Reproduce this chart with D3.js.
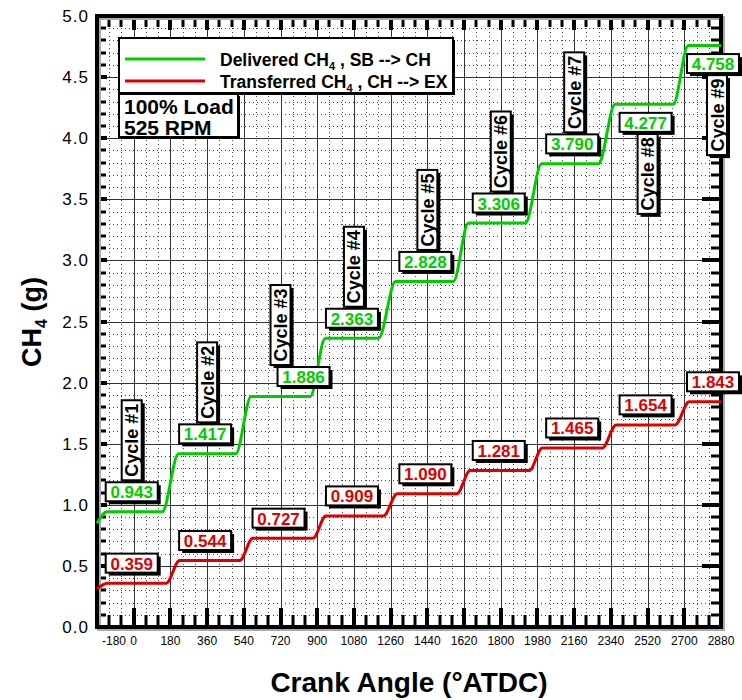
<!DOCTYPE html>
<html>
<head>
<meta charset="utf-8">
<script src="https://cdn.jsdelivr.net/npm/d3@7"></script>
<style>
  html, body { margin: 0; padding: 0; background: #fff; }
  svg { display: block; font-family: Arial, "Liberation Sans", sans-serif; }
</style>
</head>
<body>
<svg id="chart" width="742" height="700"></svg>
<script>
// Cumulative CH4 mass per engine cycle
const cycleNames = ["Cycle #1", "Cycle #2", "Cycle #3", "Cycle #4", "Cycle #5",
                    "Cycle #6", "Cycle #7", "Cycle #8", "Cycle #9"];
const deliveredCH4 = [0.943, 1.417, 1.886, 2.363, 2.828, 3.306, 3.790, 4.277, 4.758];
const transferredCH4 = [0.359, 0.544, 0.727, 0.909, 1.090, 1.281, 1.465, 1.654, 1.843];

// value at the start of the window and the angle where the first plateau begins
const deliveredInitial = 0.85;
const transferredInitial = 0.31;
const firstPlateauAngle = -130;

// crank angles (deg ATDC) where each step starts and finishes rising
const deliveredRiseStart = [140, 500, 865, 1201, 1568, 1921, 2279, 2646];
const deliveredRiseEnd   = [220, 576, 940, 1284, 1641, 2000, 2361, 2719];
const transferredRiseStart = [160, 520, 880, 1225, 1585, 1940, 2298, 2655];
const transferredRiseEnd   = [225, 584, 942, 1292, 1650, 2004, 2366, 2724];

const xTicks = [-180, 0, 180, 360, 540, 720, 900, 1080, 1260, 1440, 1620, 1800, 1980, 2160, 2340, 2520, 2700, 2880];
const yTicks = [0, 0.5, 1.0, 1.5, 2.0, 2.5, 3.0, 3.5, 4.0, 4.5, 5.0];

const GREEN = "#00cc00";
const RED = "#dd0000";

const svg = d3.select("#chart");
const L = 97, R = 721, T = 16, B = 627;

const x = d3.scaleLinear().domain([-180, 2880]).range([L, R]);
const y = d3.scaleLinear().domain([0, 5]).range([B, T]);

// ---- grid ----
const grid = svg.append("g");
const minorX = d3.range(-180, 2881, 60).filter(v => (v + 180) % 180 !== 0);
const minorY = d3.range(0, 51).map(i => i / 10).filter((v, i) => i % 5 !== 0);
grid.selectAll(".mx").data(minorX).join("line")
  .attr("x1", d => Math.round(x(d)) + 0.5).attr("x2", d => Math.round(x(d)) + 0.5)
  .attr("y1", T).attr("y2", B)
  .attr("stroke", "#444").attr("stroke-width", 1).attr("stroke-dasharray", "1,3");
grid.selectAll(".my").data(minorY).join("line")
  .attr("y1", d => Math.round(y(d)) + 0.5).attr("y2", d => Math.round(y(d)) + 0.5)
  .attr("x1", L).attr("x2", R)
  .attr("stroke", "#444").attr("stroke-width", 1).attr("stroke-dasharray", "1,3");
grid.selectAll(".Mx").data(xTicks).join("line")
  .attr("x1", d => Math.round(x(d)) + 0.5).attr("x2", d => Math.round(x(d)) + 0.5)
  .attr("y1", T).attr("y2", B)
  .attr("stroke", "#333").attr("stroke-width", 1);
grid.selectAll(".My").data(yTicks).join("line")
  .attr("y1", d => Math.round(y(d)) + 0.5).attr("y2", d => Math.round(y(d)) + 0.5)
  .attr("x1", L).attr("x2", R)
  .attr("stroke", "#333").attr("stroke-width", 1);

// ---- ticks on all four sides, pointing inward ----
const ticks = svg.append("g").attr("stroke", "#000");
const minorXT = d3.range(-180, 2881, 60);
minorXT.forEach(v => {
  const major = (v + 180) % 180 === 0;
  const xp = Math.round(x(v));
  ticks.append("line").attr("x1", xp).attr("x2", xp)
    .attr("y1", B).attr("y2", B - (major ? 19 : 12))
    .attr("stroke-width", major ? 4 : 3);
  ticks.append("line").attr("x1", xp).attr("x2", xp)
    .attr("y1", T).attr("y2", T + (major ? 14 : 11))
    .attr("stroke-width", major ? 4 : 3);
});
d3.range(0, 51).forEach(i => {
  const major = i % 5 === 0;
  const yp = Math.round(y(i / 10));
  ticks.append("line").attr("x1", L).attr("x2", L + (major ? 10 : 9))
    .attr("y1", yp).attr("y2", yp).attr("stroke-width", major ? 4 : 3);
  ticks.append("line").attr("x1", R).attr("x2", R - (major ? 19 : 10))
    .attr("y1", yp).attr("y2", yp).attr("stroke-width", major ? 4 : 3);
});

// ---- frame with soft shadow ----
svg.append("rect").attr("x", L + 2).attr("y", T + 2).attr("width", R - L).attr("height", B - T)
  .attr("fill", "none").attr("stroke", "#aaa").attr("stroke-width", 4);
svg.append("rect").attr("x", L).attr("y", T).attr("width", R - L).attr("height", B - T)
  .attr("fill", "none").attr("stroke", "#000").attr("stroke-width", 4);

// ---- tick labels ----
svg.append("g").selectAll("text").data(xTicks).join("text")
  .attr("x", (d, i) => x(d) + (i === 0 ? 17 : 0))
  .attr("y", 645)
  .attr("text-anchor", "middle")
  .attr("font-size", 12)
  .text(d => d);
svg.append("g").selectAll("text").data(yTicks).join("text")
  .attr("x", 89)
  .attr("y", d => y(d) + 6)
  .attr("text-anchor", "end")
  .attr("font-size", 17)
  .attr("letter-spacing", 1)
  .text(d => d.toFixed(1));

// ---- axis titles ----
svg.append("text").attr("x", 409).attr("y", 692).attr("text-anchor", "middle")
  .attr("font-size", 28).attr("font-weight", "bold")
  .text("Crank Angle (°ATDC)");
const yt = svg.append("text").attr("transform", "translate(41,322) rotate(-90)")
  .attr("text-anchor", "middle").attr("font-size", 27).attr("font-weight", "bold");
yt.append("tspan").text("CH");
yt.append("tspan").attr("font-size", 16).attr("dy", 6).text("4");
yt.append("tspan").attr("dy", -6).text(" (g)");

// ---- step curves ----
function stepPoints(initial, values, riseStart, riseEnd) {
  const pts = [[-180, initial], [firstPlateauAngle, values[0]]];
  riseStart.forEach((a, i) => {
    pts.push([a, values[i]]);
    pts.push([riseEnd[i], values[i + 1]]);
  });
  pts.push([2880, values[values.length - 1]]);
  return pts;
}
const line = d3.line().x(d => x(d[0])).y(d => y(d[1])).curve(d3.curveMonotoneX);
svg.append("path").attr("d", line(stepPoints(transferredInitial, transferredCH4, transferredRiseStart, transferredRiseEnd)))
  .attr("fill", "none").attr("stroke", RED).attr("stroke-width", 3);
svg.append("path").attr("d", line(stepPoints(deliveredInitial, deliveredCH4, deliveredRiseStart, deliveredRiseEnd)))
  .attr("fill", "none").attr("stroke", GREEN).attr("stroke-width", 3);

// ---- boxed labels ----
function box(g, cx, cy, w, h) {
  g.append("rect").attr("x", cx - w / 2 + 3).attr("y", cy - h / 2 + 3)
    .attr("width", w).attr("height", h).attr("fill", "#000");
  g.append("rect").attr("x", cx - w / 2).attr("y", cy - h / 2)
    .attr("width", w).attr("height", h).attr("fill", "#fff")
    .attr("stroke", "#000").attr("stroke-width", 2);
}
const VW = 52, VH = 19, CW = 20, CH = 80;
const labels = svg.append("g").attr("font-weight", "bold");

// value boxes sit at the start of each cycle (multiples of 360 deg),
// kept inside the figure at the right edge
function labelX(i) {
  return Math.min(x(360 * i) - 2, 713);
}

transferredCH4.forEach((v, i) => {
  const cx = labelX(i), cy = y(v) - 20;
  box(labels, cx, cy, VW, VH);
  labels.append("text").attr("x", cx).attr("y", cy + 6.5).attr("text-anchor", "middle")
    .attr("font-size", 17).attr("fill", RED).text(v.toFixed(3));
});

deliveredCH4.forEach((v, i) => {
  const below = i >= 7;
  // the third delivered value is nudged right so it clears its cycle tag
  const cx = labelX(i) + (i === 2 ? 25 : 0);
  const cy = below ? y(v) + 18 : y(v) - 20;
  // cycle tag sits on top of the value box, or hangs under it near the top edge
  const tagX = i === 8 ? 717 : x(360 * i) - (i === 0 ? 2 : 0);
  const tagCY = below ? cy + VH / 2 + 2 + CH / 2 : cy - VH / 2 - 2 - CH / 2;
  box(labels, tagX, tagCY, CW, CH);
  labels.append("text")
    .attr("transform", `translate(${tagX + 6.5},${tagCY}) rotate(-90)`)
    .attr("text-anchor", "middle").attr("font-size", 18).attr("fill", "#000")
    .text(cycleNames[i]);
  box(labels, cx, cy, VW, VH);
  labels.append("text").attr("x", cx).attr("y", cy + 6.5).attr("text-anchor", "middle")
    .attr("font-size", 17).attr("fill", GREEN).text(v.toFixed(3));
});

// ---- legend ----
const lg = svg.append("g");
lg.append("rect").attr("x", 121).attr("y", 40).attr("width", 334).attr("height", 55).attr("fill", "#000");
lg.append("rect").attr("x", 119).attr("y", 38).attr("width", 334).attr("height", 55)
  .attr("fill", "#fff").attr("stroke", "#000").attr("stroke-width", 2);
const legendItems = [
  { color: GREEN, pre: "Delivered CH", post: " , SB --> CH", y: 59 },
  { color: RED, pre: "Transferred CH", post: " , CH --> EX", y: 81 }
];
legendItems.forEach(it => {
  lg.append("line").attr("x1", 125).attr("x2", 205).attr("y1", it.y).attr("y2", it.y)
    .attr("stroke", it.color).attr("stroke-width", 3);
  const t = lg.append("text").attr("x", 220).attr("y", it.y + 7).attr("font-size", 17.5).attr("font-weight", "bold");
  t.append("tspan").text(it.pre);
  t.append("tspan").attr("font-size", 11).attr("dy", 4).text("4");
  t.append("tspan").attr("dy", -4).text(it.post);
});

// operating point box
const op = svg.append("g");
op.append("rect").attr("x", 121).attr("y", 96).attr("width", 119).attr("height", 43).attr("fill", "#000");
op.append("rect").attr("x", 119).attr("y", 94).attr("width", 119).attr("height", 43)
  .attr("fill", "#fff").attr("stroke", "#000").attr("stroke-width", 2);
op.append("text").attr("x", 124).attr("y", 114).attr("font-size", 21).attr("font-weight", "bold").text("100% Load");
op.append("text").attr("x", 124).attr("y", 135).attr("font-size", 21).attr("font-weight", "bold").text("525 RPM");
</script>
</body>
</html>
